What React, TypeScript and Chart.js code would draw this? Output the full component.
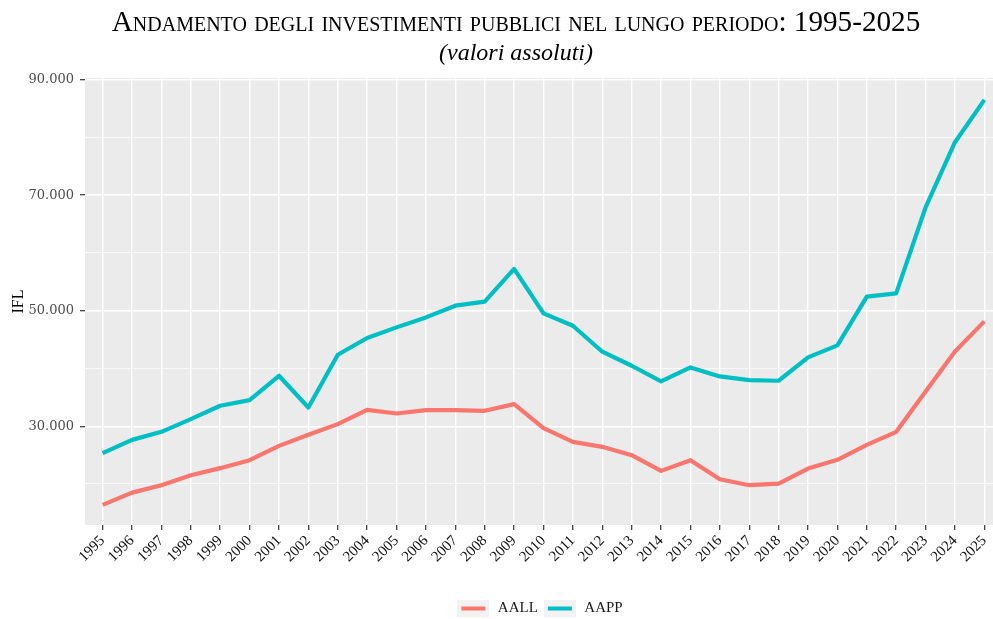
import React, { useEffect, useRef } from 'react';
import { Chart, registerables } from 'chart.js';

Chart.register(...registerables);

const years = [
  1995, 1996, 1997, 1998, 1999, 2000, 2001, 2002, 2003, 2004, 2005,
  2006, 2007, 2008, 2009, 2010, 2011, 2012, 2013, 2014, 2015, 2016,
  2017, 2018, 2019, 2020, 2021, 2022, 2023, 2024, 2025,
];

const aall = [
  16380, 18510, 19790, 21520, 22740, 24120, 26600, 28510, 30360, 32840, 32200,
  32790, 32790, 32670, 33830, 29670, 27300, 26430, 24990, 22270, 24120, 20830,
  19790, 20070, 22670, 24180, 26780, 29030, 36010, 42950, 48150,
];

const aapp = [
  25340, 27640, 29030, 31230, 33540, 34520, 38730, 33240, 42370, 45270, 47110,
  48840, 50870, 51560, 57230, 49530, 47400, 42900, 40470, 37750, 40180, 38620,
  37990, 37870, 41910, 44000, 52430, 53000, 67900, 79170, 86500,
];

const seriesNames = ['AALL', 'AAPP'];
const seriesColors = ['#F8766D', '#00BFC4'];

const yGridValues = [20000, 30000, 40000, 50000, 60000, 70000, 80000, 90000];
const yLabelValues = [30000, 50000, 70000, 90000];

const titleText = 'Andamento degli investimenti pubblici nel lungo periodo: 1995-2025';
const subtitleText = '(valori assoluti)';
const yTitle = 'IFL';

const SERIF = "'Liberation Serif', 'Times New Roman', serif";

function formatThousands(v: number): string {
  return String(Math.round(v / 1000)) + '.000';
}

function makeKey(color: string): HTMLCanvasElement {
  const c = document.createElement('canvas');
  c.width = 32;
  c.height = 17;
  const g = c.getContext('2d')!;
  g.fillStyle = '#f2f2f2';
  g.fillRect(0, 0, 32, 17);
  g.strokeStyle = color;
  g.lineWidth = 4;
  g.beginPath();
  g.moveTo(4, 8.5);
  g.lineTo(28, 8.5);
  g.stroke();
  return c;
}

const panelPlugin = {
  id: 'panelBg',
  beforeDraw(chart: any) {
    const { ctx, chartArea } = chart;
    ctx.save();
    ctx.fillStyle = '#ebebeb';
    ctx.fillRect(chartArea.left, chartArea.top, chartArea.right - chartArea.left, chartArea.bottom - chartArea.top);
    ctx.restore();
  },
};

const shiftPlugin = {
  id: 'shiftBoxes',
  afterLayout(chart: any) {
    const ca = chart.chartArea;
    for (const box of chart.boxes) {
      const o = box.options || {};
      if (box === chart.legend) {
        const target = (ca.left + ca.right) / 2 - 4;
        const d = target - (box.left + box.right) / 2;
        box.left += d;
        box.right += d;
        box.top += 7;
        box.bottom += 7;
      } else if (o.text !== undefined && box.position === 'top') {
        const target = 516;
        const d = target - (box.left + box.right) / 2;
        box.left += d;
        box.right += d;
      }
    }
  },
};

export default function App() {
  const ref = useRef<HTMLCanvasElement>(null);

  useEffect(() => {
    if (!ref.current) return;
    const keys = seriesColors.map(makeKey);
    const chart = new Chart(ref.current, {
      type: 'line',
      data: {
        datasets: [
          {
            label: seriesNames[0],
            data: years.map((yr, i) => ({ x: yr, y: aall[i] })),
            borderColor: seriesColors[0],
            backgroundColor: seriesColors[0],
            borderWidth: 4.2,
            pointRadius: 0,
            borderJoinStyle: 'round',
            tension: 0,
          },
          {
            label: seriesNames[1],
            data: years.map((yr, i) => ({ x: yr, y: aapp[i] })),
            borderColor: seriesColors[1],
            backgroundColor: seriesColors[1],
            borderWidth: 4.2,
            pointRadius: 0,
            borderJoinStyle: 'round',
            tension: 0,
          },
        ],
      },
      options: {
        responsive: false,
        animation: false,
        devicePixelRatio: 1,
        events: [],
        layout: { padding: { left: 0, right: 30, top: 0, bottom: 0 } },
        scales: {
          x: {
            type: 'linear',
            min: 1994.4,
            max: 2025.6,
            afterBuildTicks: (s: any) => {
              s.ticks = years.map((v) => ({ value: v }));
            },
            afterFit: (s: any) => {
              s.height = 64;
            },
            ticks: {
              autoSkip: false,
              minRotation: 45,
              maxRotation: 45,
              padding: 2,
              color: '#111111',
              font: { family: SERIF, size: 15 },
              callback: (v: any) => String(v),
            },
            grid: {
              color: '#ffffff',
              lineWidth: 1.4,
              tickColor: '#333333',
              tickLength: 5,
              tickWidth: 1.2,
            },
            border: { display: false },
          },
          y: {
            type: 'linear',
            min: 12900,
            max: 90300,
            afterBuildTicks: (s: any) => {
              s.ticks = yGridValues.map((v) => ({ value: v }));
            },
            afterFit: (s: any) => {
              s.width = 85;
            },
            ticks: {
              padding: 6,
              color: '#4d4d4d',
              font: { family: "'DejaVu Serif', serif", size: 13 },
              callback: (v: any) => (yLabelValues.includes(v) ? formatThousands(v) : ''),
            },
            grid: {
              color: '#ffffff',
              lineWidth: (c: any) => (yLabelValues.includes(c.tick?.value) ? 1.4 : 0.7),
              tickColor: (c: any) => (yLabelValues.includes(c.tick?.value) ? '#333333' : 'rgba(0,0,0,0)'),
              tickLength: 5,
              tickWidth: 1.2,
            },
            border: { display: false },
            title: {
              display: true,
              text: yTitle,
              color: '#000000',
              font: { family: SERIF, size: 16 },
              padding: { top: 9, bottom: 0 },
            },
          },
        },
        plugins: {
          tooltip: { enabled: false },
          title: {
            display: true,
            text: titleText,
            color: '#000000',
            font: { family: SERIF, size: 29.2, weight: 'small-caps' as any, lineHeight: 1.1 },
            padding: { top: 7, bottom: 0 },
          },
          subtitle: {
            display: true,
            text: subtitleText,
            color: '#000000',
            font: { family: SERIF, size: 24, style: 'italic', lineHeight: 1.2 },
            padding: { top: 0, bottom: 10 },
          },
          legend: {
            display: true,
            position: 'bottom',
            labels: {
              usePointStyle: true,
              pointStyleWidth: 34,
              boxHeight: 17,
              padding: 5,
              color: '#1a1a1a',
              font: { family: SERIF, size: 15 },
              generateLabels: (ch: any) =>
                ch.data.datasets.map((ds: any, i: number) => ({
                  text: ds.label,
                  pointStyle: keys[i],
                  fillStyle: seriesColors[i],
                  strokeStyle: seriesColors[i],
                  lineWidth: 0,
                  hidden: false,
                  datasetIndex: i,
                  fontColor: '#1a1a1a',
                })),
            },
          },
        },
      },
      plugins: [panelPlugin, shiftPlugin],
    });
    return () => chart.destroy();
  }, []);

  return (
    <div style={{ position: 'fixed', left: 0, top: 0, width: 993, height: 619, overflow: 'hidden', background: '#ffffff' }}>
      <canvas ref={ref} width={1032} height={619} style={{ display: 'block', width: 1032, height: 619 }} />
    </div>
  );
}
